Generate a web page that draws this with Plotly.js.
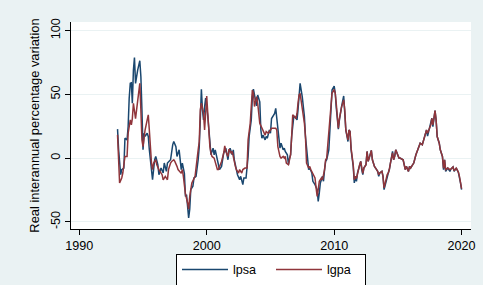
<!DOCTYPE html>
<html><head><meta charset="utf-8">
<script src="https://cdn.plot.ly/plotly-3.0.1.min.js"></script>
<style>html,body{margin:0;padding:0;background:#EAF2F3;}</style>
</head><body><div id="chart" style="width:483px;height:285px;"></div>
<script>
const lpsaDates = ["1993-01","1993-02","1993-04","1993-05","1993-07","1993-08","1993-10","1993-11","1993-12",
"1994-01","1994-02","1994-03","1994-04","1994-05","1994-06","1994-07","1994-08","1994-10","1994-11","1994-12",
"1995-01","1995-02","1995-03","1995-05","1995-06","1995-07","1995-09","1995-10","1995-12",
"1996-01","1996-03","1996-04","1996-06","1996-08","1996-09","1996-11","1996-12",
"1997-02","1997-03","1997-05","1997-06","1997-08","1997-09","1997-11",
"1998-01","1998-02","1998-04","1998-05","1998-06","1998-08","1998-09","1998-10","1998-12",
"1999-01","1999-03","1999-05","1999-06","1999-07","1999-08","1999-09","1999-10","1999-11","1999-12",
"2000-02","2000-03","2000-04","2000-05","2000-07","2000-08","2000-09","2000-11","2000-12",
"2001-01","2001-03","2001-04","2001-05","2001-07","2001-08","2001-09","2001-10","2001-11",
"2002-01","2002-02","2002-03","2002-05","2002-06","2002-08","2002-09","2002-11","2002-12",
"2003-02","2003-04","2003-05","2003-07","2003-08","2003-09","2003-10","2003-12",
"2004-01","2004-03","2004-04","2004-05","2004-06","2004-08","2004-09","2004-10","2004-12",
"2005-01","2005-02","2005-04","2005-05","2005-06","2005-07","2005-08","2005-09","2005-10","2005-11",
"2006-01","2006-02","2006-03","2006-05","2006-06","2006-07","2006-08","2006-09","2006-11","2006-12",
"2007-02","2007-03","2007-04","2007-05","2007-07","2007-08","2007-09","2007-10","2007-12",
"2008-01","2008-02","2008-04","2008-05","2008-06","2008-07","2008-09","2008-10","2008-11","2008-12",
"2009-02","2009-03","2009-04","2009-05","2009-06","2009-08","2009-09","2009-10","2009-11",
"2010-01","2010-02","2010-03","2010-05","2010-06","2010-07","2010-08","2010-10","2010-11","2010-12",
"2011-02","2011-03","2011-04","2011-05","2011-07","2011-08","2011-09","2011-10","2011-11",
"2012-01","2012-02","2012-03","2012-04","2012-05","2012-07","2012-08","2012-09","2012-10","2012-12",
"2013-01","2013-02","2013-03","2013-05","2013-06","2013-07","2013-08","2013-10","2013-11","2013-12",
"2014-02","2014-03","2014-04","2014-05","2014-06","2014-08","2014-09","2014-10","2014-11",
"2015-01","2015-02","2015-03","2015-05","2015-06","2015-07","2015-08","2015-09","2015-11","2015-12",
"2016-01","2016-03","2016-04","2016-06","2016-08","2016-10","2016-12",
"2017-02","2017-03","2017-04","2017-05","2017-07","2017-08","2017-09","2017-10","2017-12",
"2018-01","2018-02","2018-04","2018-05","2018-07","2018-08","2018-09","2018-10","2018-12",
"2019-02","2019-03","2019-05","2019-06","2019-08","2019-10","2019-11","2019-12","2020-01"];
const lpsaValues = [22.7,6.5,-13,-9,-7.8,15.6,14.3,24.7,46.9,
58.6,59,43,69,78.9,58.6,65,69,76.3,63.8,37.8,
6.5,19.5,17,19.5,17,6.5,-6.5,-17,-1.3,
1.3,-5.2,-13,-7.8,-11.7,-3.9,-10.4,-3.9,
-2.6,-1.3,10.4,13,9,1.3,6.5,
-9,-3.9,-12,-30,-28.6,-46.9,-40,-24.7,-22,
-15.6,-14.3,-1.3,9,30,54,37.8,30,40,47,
32.6,19.5,13,2.6,7.8,2.6,6.5,-1.3,-5.2,
-9,-6.5,-1.3,3.9,7.8,3.9,-1.3,5.2,7.8,
2.6,6.5,-1.3,-9,-13,-17,-14.3,-20.8,-15.6,
-15.6,1.3,17,30,48,54,49.5,40.9,
49.5,44,22,15.6,18,14.3,17,15.6,22,
19.5,31,33.9,35,39,30,22,17,7.8,11.7,
6.5,7.8,5.2,2.6,-5.2,0,2.6,17,32.6,32.6,
30,37.8,48.2,58.6,48.2,40.4,32.6,17,-1.3,
-9,-7.8,-11.7,-18.2,-19.5,-20.8,-24.7,-33.9,-27.3,-19.5,
-14.3,-18.2,-9,-2.6,-1.3,6.5,22,35,53.4,
56.5,51,40,22.7,30,37.8,40.4,48.7,37.8,22,
13,22,20.8,6.5,-6.5,-19.5,-14.3,-18.2,-11.7,
-5.2,-2.6,-9,-13,-7.8,-5.2,5.2,-2.6,0,6,
-1.3,-5.2,-6.5,-9,-10.4,-14.3,-11.7,-10.4,-14.3,-24.7,
-17,-13,-11.7,-9,-3.9,5.2,-1.3,1.3,6.5,
0.8,0,0,-1.3,-1.3,-5.2,-9,-6.5,-10.4,-6.5,
-7.8,-5.2,-3.9,2.6,6.5,11.7,10.4,
16.9,19.5,22,17.2,23.4,26,31.2,24.7,37.2,
29.9,16.9,11.7,6.5,1.3,-9.1,-1.3,-10.4,-7.8,
-10.4,-8.6,-7,-10.4,-7.8,-11.2,-14.8,-19.5,-24.7];

const lgpaDates = ["1993-01","1993-02","1993-03","1993-05","1993-06","1993-08","1993-10","1993-11","1993-12",
"1994-01","1994-02","1994-03","1994-04","1994-05","1994-06","1994-07","1994-09","1994-10","1994-11","1994-12",
"1995-01","1995-02","1995-03","1995-05","1995-06","1995-07","1995-08","1995-09","1995-10","1995-11",
"1996-01","1996-02","1996-04","1996-05","1996-07","1996-08","1996-10","1996-12",
"1997-01","1997-03","1997-04","1997-06","1997-07","1997-09","1997-10",
"1998-01","1998-02","1998-03","1998-04","1998-05","1998-07","1998-08","1998-09","1998-10","1998-11",
"1999-02","1999-03","1999-05","1999-06","1999-07","1999-08","1999-10","1999-11","1999-12",
"2000-01","2000-02","2000-03","2000-04","2000-05","2000-06","2000-08","2000-09","2000-11","2000-12",
"2001-02","2001-03","2001-05","2001-06","2001-07","2001-09","2001-10","2001-12",
"2002-01","2002-02","2002-04","2002-05","2002-07","2002-08","2002-10","2002-11",
"2003-01","2003-03","2003-04","2003-06","2003-07","2003-08","2003-09","2003-10","2003-12",
"2004-01","2004-03","2004-05","2004-06","2004-08","2004-09","2004-11",
"2005-01","2005-02","2005-04","2005-06","2005-07","2005-08","2005-10","2005-11",
"2006-01","2006-02","2006-03","2006-04","2006-06","2006-07","2006-08","2006-09","2006-10",
"2007-01","2007-02","2007-03","2007-04","2007-05","2007-06","2007-07","2007-09","2007-10","2007-11",
"2008-01","2008-02","2008-03","2008-05","2008-06","2008-07","2008-08","2008-09","2008-10","2008-11",
"2009-01","2009-02","2009-04","2009-05","2009-06","2009-07","2009-09","2009-10","2009-11",
"2010-01","2010-02","2010-03","2010-05","2010-06","2010-07","2010-08","2010-10","2010-11","2010-12",
"2011-02","2011-03","2011-04","2011-05","2011-07","2011-08","2011-09","2011-10","2011-11",
"2012-01","2012-02","2012-03","2012-04","2012-05","2012-07","2012-08","2012-09","2012-10","2012-12",
"2013-01","2013-02","2013-03","2013-05","2013-06","2013-07","2013-08","2013-10","2013-11","2013-12",
"2014-02","2014-03","2014-04","2014-05","2014-06","2014-08","2014-09","2014-10","2014-11",
"2015-01","2015-02","2015-03","2015-05","2015-06","2015-07","2015-08","2015-09","2015-11","2015-12",
"2016-01","2016-03","2016-04","2016-06","2016-08","2016-10","2016-12",
"2017-02","2017-03","2017-04","2017-05","2017-07","2017-08","2017-09","2017-10","2017-12",
"2018-01","2018-02","2018-04","2018-05","2018-07","2018-08","2018-09","2018-10","2018-12",
"2019-02","2019-03","2019-05","2019-06","2019-08","2019-10","2019-11","2019-12","2020-01"];
const lgpaValues = [18.2,-3.9,-19.5,-15.6,-11.7,1.3,1.3,19.5,24.7,
30,26,31,43,37.8,31,37.8,52,58.6,37.8,14.3,
9,19.5,22,30,33.9,22,6.5,-3.9,-9,-3.9,
-1.3,-5.2,-9,-10.4,-13,-17,-14.3,-17,
-9,-3.9,-2.6,-1.3,-2.6,-6.5,-9,
-12,-9,-14,-20,-28,-35,-40,-30,-23.4,-19.5,
-14.3,-9,6.5,13,37.8,43,35,22,37.8,
48.7,35,17,9,3.9,1.3,0,-3.9,-9,-9,
-5.2,-2.6,3.9,9.6,5.2,1.3,7,3.9,
5.2,0,-6.5,-9,-11.7,-9,-11.7,-9,
-7.8,-7.8,14.3,27.3,45.6,53.4,50.8,40.4,48.2,
43,27.3,23.4,20.8,18,20.8,19.5,
22,23.4,23.4,23.4,22,9,1.3,0,
1.3,0,1.3,-3.9,-5.2,-1.3,2.6,17,33.9,
31,35,43,49.5,50.8,45.6,39,27.3,17,-3.9,
-7.8,-6.5,-9,-13,-14.3,-15.6,-23.4,-30,-24.7,-18.2,
-15.6,-17,-9,-1.3,0,10.4,24.7,36.5,50.8,
53.9,50.8,43,23.4,31,37,40,45.6,37.8,22,
14.3,22,20.8,7.8,-5.2,-17,-14.3,-16,-11.7,
-5.2,-2.6,-9,-12,-7.8,-5.2,5.2,-2.6,0,6,
-1.3,-5.2,-6.5,-9,-10.4,-13,-11.7,-10.4,-14.3,-23.4,
-16,-13,-11.7,-9,-3.9,4,-1.3,1.3,6.5,
1.3,0,0,-1.3,-1.3,-5.2,-9,-6.5,-10.4,-6.5,
-7.8,-5.2,-3.9,2.6,6.5,11.7,10.4,
16.9,19.5,22,19.5,23.4,26,31.2,26,37.2,
29.9,16.9,11.7,6.5,1.3,-8,-1.3,-9,-7.8,
-9,-8.6,-7,-10,-7.8,-11,-14.3,-19.5,-24];

const seriesNames = ["lpsa", "lgpa"];
const yTicks = [-50, 0, 50, 100];
const xTickLabels = ["1990", "2000", "2010", "2020"];
const yTitle = "Real interannual percentage variation";

const fam = "Liberation Sans, Arial, sans-serif";
const tickFont = {family: fam, size: 12.6, color: "#000"};
const titleFont = {family: fam, size: 12.9, color: "#000"};
const traces = [
  {x: lpsaDates, y: lpsaValues, name: seriesNames[0], type: "scatter", mode: "lines",
   line: {color: "#1a476f", width: 1.5}},
  {x: lgpaDates, y: lgpaValues, name: seriesNames[1], type: "scatter", mode: "lines",
   line: {color: "#90353b", width: 1.5}}
];
const layout = {
  width: 483, height: 285,
  paper_bgcolor: "#EAF2F3", plot_bgcolor: "#FFFFFF",
  margin: {l: 71, r: 12, t: 22, b: 55.5, autoexpand: false},
  font: tickFont,
  showlegend: true,
  hovermode: false,
  xaxis: {
    type: "date",
    range: ["1989-05-08", "2020-09-27"],
    tickvals: xTickLabels.map(y => y + "-01-01"),
    ticktext: xTickLabels,
    ticks: "outside", ticklen: 5, tickcolor: "#000", tickwidth: 1,
    showline: true, linecolor: "#000", linewidth: 1,
    showgrid: false, zeroline: false, automargin: false,
    tickfont: tickFont
  },
  yaxis: {
    range: [-55.6, 106.7],
    tickvals: yTicks,
    ticktext: yTicks.map(String),
    tickangle: -90,
    ticks: "outside", ticklen: 5, tickcolor: "#000", tickwidth: 1,
    showline: true, linecolor: "#000", linewidth: 1,
    showgrid: true, gridcolor: "#EAF2F3", gridwidth: 1,
    zeroline: false, automargin: false,
    tickfont: tickFont,
    title: {text: yTitle, font: titleFont, standoff: 6}
  },
  legend: {
    orientation: "h", x: 0.5, xanchor: "center", y: -0.12, yanchor: "top",
    bgcolor: "#FFFFFF", bordercolor: "#000", borderwidth: 1,
    font: tickFont, traceorder: "normal", itemwidth: 46, entrywidth: 33
  }
};
Plotly.newPlot("chart", traces, layout, {displayModeBar: false, staticPlot: true});
</script></body></html>
